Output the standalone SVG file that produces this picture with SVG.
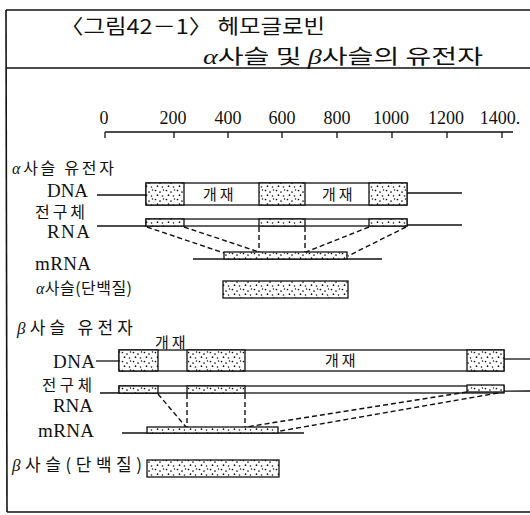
<svg xmlns="http://www.w3.org/2000/svg" width="530" height="515" viewBox="0 0 530 515">
<style>
.frame{fill:none;stroke:#111;stroke-width:1.6}
.ln{stroke:#111;stroke-width:1.3;fill:none}
.box{fill:#fff;stroke:#111;stroke-width:1.3}
.ex{fill:url(#dots);stroke:#111;stroke-width:1.3}
.dash{stroke:#111;stroke-width:1.4;fill:none;stroke-dasharray:5 3}
.title{font-family:"Noto Sans CJK KR","Noto Sans",sans-serif;font-size:20px;fill:#111}
.num{font-family:"Liberation Serif",serif;font-size:18px;fill:#111;text-anchor:middle}
.lat{font-family:"Liberation Serif",serif;font-size:19px;fill:#111}
.kr{font-family:"Noto Sans CJK KR",sans-serif;font-size:16px;fill:#111}
.gk{font-family:"Liberation Serif",serif;font-style:italic}
.in{font-family:"Noto Sans CJK KR",sans-serif;font-size:15px;fill:#111;letter-spacing:3px}
</style>
<defs>
<pattern id="dots" width="11" height="9" patternUnits="userSpaceOnUse">
<rect width="11" height="9" fill="#fff"/>
<circle cx="1.5" cy="1.5" r="0.85" fill="#111"/>
<circle cx="6" cy="3" r="0.85" fill="#111"/>
<circle cx="9.5" cy="1" r="0.75" fill="#111"/>
<circle cx="3.5" cy="6.2" r="0.85" fill="#111"/>
<circle cx="8.5" cy="7" r="0.8" fill="#111"/>
</pattern>
</defs>
<rect width="530" height="515" fill="#fff"/>

<g id="frame">
<line class="frame" x1="6" y1="10" x2="530" y2="10"/>
<line class="frame" x1="6" y1="68" x2="530" y2="68"/>
<line class="frame" x1="6" y1="10" x2="7" y2="512"/>
<line class="frame" x1="7" y1="512" x2="530" y2="512"/>
</g>

<g id="title">
<text class="title" x="60" y="34" textLength="265" lengthAdjust="spacingAndGlyphs">〈그림42－1〉 헤모글로빈</text>
<text class="title" x="203" y="64" style="font-size:20.5px" textLength="280" lengthAdjust="spacingAndGlyphs"><tspan class="gk">α</tspan>사슬 및 <tspan class="gk">β</tspan>사슬의 유전자</text>
</g>

<g id="axis">
<line class="ln" x1="105" y1="132" x2="513" y2="132"/>
<path class="ln" d="M105 132V138M174 132V138M228 132V138M282 132V138M337 132V138M392 132V138M447 132V138M502 132V138"/>
<text class="num" x="104" y="124">0</text>
<text class="num" x="173" y="124">200</text>
<text class="num" x="228" y="124">400</text>
<text class="num" x="282" y="124">600</text>
<text class="num" x="337" y="124">800</text>
<text class="num" x="391" y="124">1000</text>
<text class="num" x="446" y="124">1200</text>
<text class="num" x="500" y="124">1400.</text>
</g>

<g id="alpha-label">
<text class="kr" x="12" y="174" textLength="102" lengthAdjust="spacing"><tspan class="gk">α</tspan>사슬 유전자</text>
</g>

<g id="alpha-dna">
<text class="lat" x="47" y="197" textLength="41" lengthAdjust="spacing">DNA</text>
<line class="ln" x1="97" y1="195" x2="146" y2="195"/>
<line class="ln" x1="407" y1="193" x2="462" y2="193"/>
<rect class="box" x="146" y="183" width="261" height="22"/>
<rect class="ex" x="146" y="183" width="38" height="22"/>
<rect class="ex" x="259" y="183" width="46" height="22"/>
<rect class="ex" x="369" y="183" width="38" height="22"/>
<text class="in" x="203" y="200">개재</text>
<text class="in" x="322" y="200">개재</text>
</g>

<g id="alpha-rna">
<text class="kr" x="35" y="218" textLength="50" lengthAdjust="spacing">전구체</text>
<text class="lat" x="47" y="238" textLength="43" lengthAdjust="spacing">RNA</text>
<line class="ln" x1="97" y1="226" x2="146" y2="226"/>
<line class="ln" x1="407" y1="225" x2="462" y2="225"/>
<rect class="box" x="146" y="219" width="261" height="7"/>
<rect class="ex" x="146" y="219" width="38" height="7"/>
<rect class="ex" x="259" y="219" width="46" height="7"/>
<rect class="ex" x="369" y="219" width="38" height="7"/>
</g>

<g id="alpha-mrna">
<text class="lat" x="35" y="270" textLength="56" lengthAdjust="spacing">mRNA</text>
<line class="ln" x1="193" y1="259" x2="382" y2="259"/>
<rect class="ex" x="224" y="252" width="123" height="7"/>
</g>

<g id="alpha-protein">
<text class="kr" x="36" y="294" textLength="96" lengthAdjust="spacing"><tspan class="gk">α</tspan>사슬(단백질)</text>
<rect class="ex" x="223" y="281" width="125" height="17"/>
</g>

<g id="beta-label">
<text class="kr" x="17" y="334" style="font-size:17px" textLength="116" lengthAdjust="spacing"><tspan class="gk">β</tspan>사슬 유전자</text>
</g>

<g id="beta-dna">
<text class="in" x="155" y="348">개재</text>
<text class="lat" x="53" y="368" textLength="42" lengthAdjust="spacing">DNA</text>
<line class="ln" x1="96" y1="361" x2="119" y2="361"/>
<line class="ln" x1="504" y1="359" x2="530" y2="359"/>
<rect class="box" x="119" y="350" width="385" height="21"/>
<rect class="ex" x="119" y="350" width="39" height="21"/>
<rect class="ex" x="187" y="350" width="58" height="21"/>
<rect class="ex" x="467" y="350" width="37" height="21"/>
<text class="in" x="325" y="366">개재</text>
</g>

<g id="beta-rna">
<text class="kr" x="42" y="391" style="font-size:15.5px" textLength="50" lengthAdjust="spacing">전구체</text>
<text class="lat" x="53" y="412" textLength="40" lengthAdjust="spacing">RNA</text>
<line class="ln" x1="100" y1="393" x2="530" y2="391"/>
<rect class="box" x="119" y="386" width="385" height="7"/>
<rect class="ex" x="119" y="386" width="39" height="7"/>
<rect class="ex" x="187" y="386" width="58" height="7"/>
<rect class="ex" x="467" y="385" width="37" height="7"/>
</g>

<g id="beta-mrna">
<text class="lat" x="38" y="437" textLength="56" lengthAdjust="spacing">mRNA</text>
<line class="ln" x1="122" y1="433" x2="304" y2="433"/>
<rect class="ex" x="147" y="427" width="131" height="6"/>
</g>

<g id="beta-protein">
<text class="kr" x="12" y="471" style="font-size:17px" textLength="130" lengthAdjust="spacing"><tspan class="gk">β</tspan>사슬(단백질)</text>
<rect class="ex" x="147" y="460" width="132" height="17"/>
</g>

<g id="connectors">
<line class="dash" x1="147" y1="227" x2="224" y2="253"/>
<line class="dash" x1="184" y1="227" x2="259" y2="252"/>
<line class="dash" x1="259" y1="227" x2="259" y2="252"/>
<line class="dash" x1="305" y1="227" x2="305" y2="252"/>
<line class="dash" x1="369" y1="227" x2="306" y2="252"/>
<line class="dash" x1="406" y1="227" x2="348" y2="256"/>
<line class="dash" x1="158" y1="394" x2="186" y2="427"/>
<line class="dash" x1="187" y1="394" x2="187" y2="427"/>
<line class="dash" x1="245" y1="394" x2="245" y2="427"/>
<line class="dash" x1="467" y1="392" x2="246" y2="427"/>
<line class="dash" x1="498" y1="393" x2="280" y2="431"/>
</g>
</svg>
